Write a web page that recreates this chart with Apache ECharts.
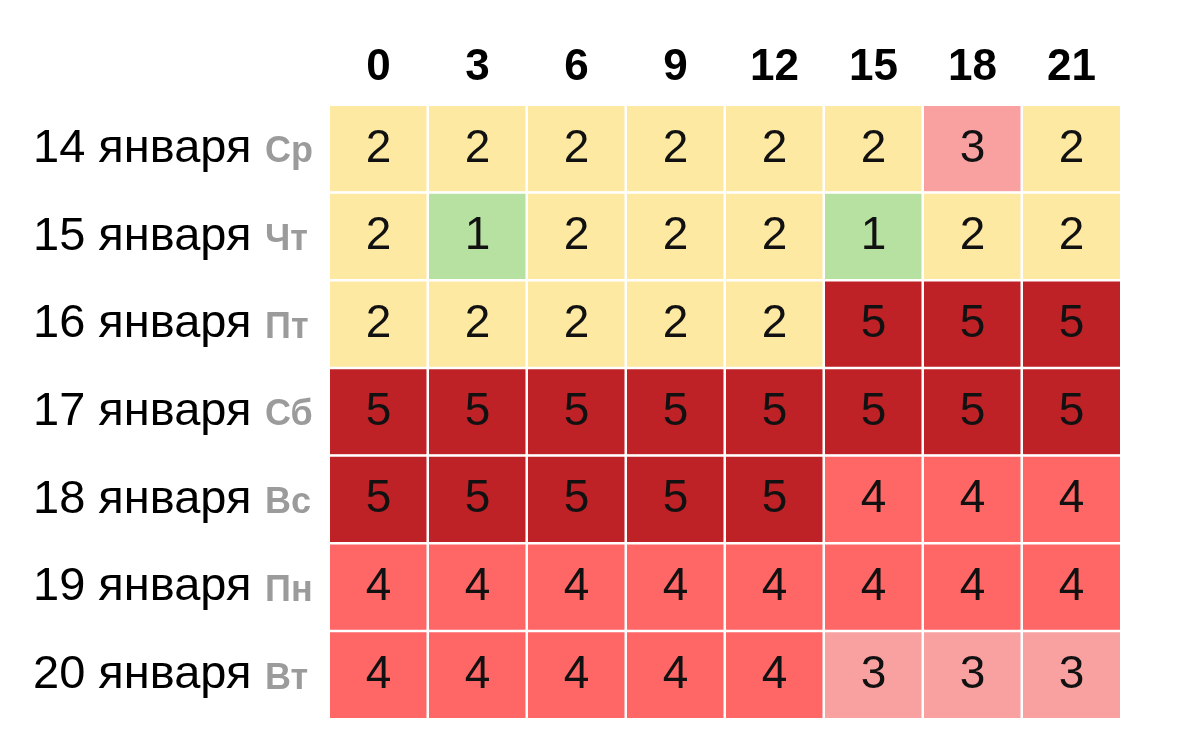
<!DOCTYPE html>
<html><head><meta charset="utf-8">
<script src="https://cdn.jsdelivr.net/npm/echarts@6/dist/echarts.min.js"></script>
<style>html,body{margin:0;padding:0;background:#fff}#c{width:1178px;height:729px}</style>
</head><body><div id="c"></div>
<script>
const hours = ['0','3','6','9','12','15','18','21'];
const dates = ['14 января','15 января','16 января','17 января','18 января','19 января','20 января'];
const weekdays = ['Ср','Чт','Пт','Сб','Вс','Пн','Вт'];
const values = [
  [2,2,2,2,2,2,3,2],
  [2,1,2,2,2,1,2,2],
  [2,2,2,2,2,5,5,5],
  [5,5,5,5,5,5,5,5],
  [5,5,5,5,5,4,4,4],
  [4,4,4,4,4,4,4,4],
  [4,4,4,4,4,3,3,3]
];
const levelColors = ['#b7e1a1','#fde9a2','#f9a0a0','#ff6666','#be2126'];

const data = [];
values.forEach((row, r) => row.forEach((v, c) => data.push([c, r, v])));

const chart = echarts.init(document.getElementById('c'), null, {renderer:'canvas'});
chart.setOption({
  animation:false,
  grid:{left:329, right:57, top:105, bottom:10},
  xAxis:{type:'category', data:hours, position:'top',
    axisLine:{show:false}, axisTick:{show:false}, splitLine:{show:false},
    axisLabel:{fontFamily:'Liberation Sans, Arial', fontSize:44, fontWeight:'bold', color:'#000', margin:15}},
  yAxis:{type:'category', data:dates, inverse:true,
    axisLine:{show:false}, axisTick:{show:false}, splitLine:{show:false},
    axisLabel:{margin:296, align:'left', formatter:(v, i) => '{a|' + v + '}{b|' + weekdays[i] + '}',
      rich:{a:{fontFamily:'Liberation Sans, Arial', fontSize:47, color:'#000', width:232, verticalAlign:'bottom'},
            b:{fontFamily:'Liberation Sans, Arial', fontSize:36, fontWeight:'bold', color:'#9b9b9b', verticalAlign:'bottom', padding:[0,0,2,0]}}}},
  visualMap:{type:'piecewise', show:false, dimension:2,
    pieces:levelColors.map((col, i) => ({value:i+1, color:col}))},
  series:[{type:'heatmap', data:data,
    itemStyle:{borderColor:'#fff', borderWidth:2.5},
    label:{show:true, fontFamily:'Liberation Sans, Arial', fontSize:46, color:'#111'},
    emphasis:{disabled:true}}]
});
</script></body></html>
